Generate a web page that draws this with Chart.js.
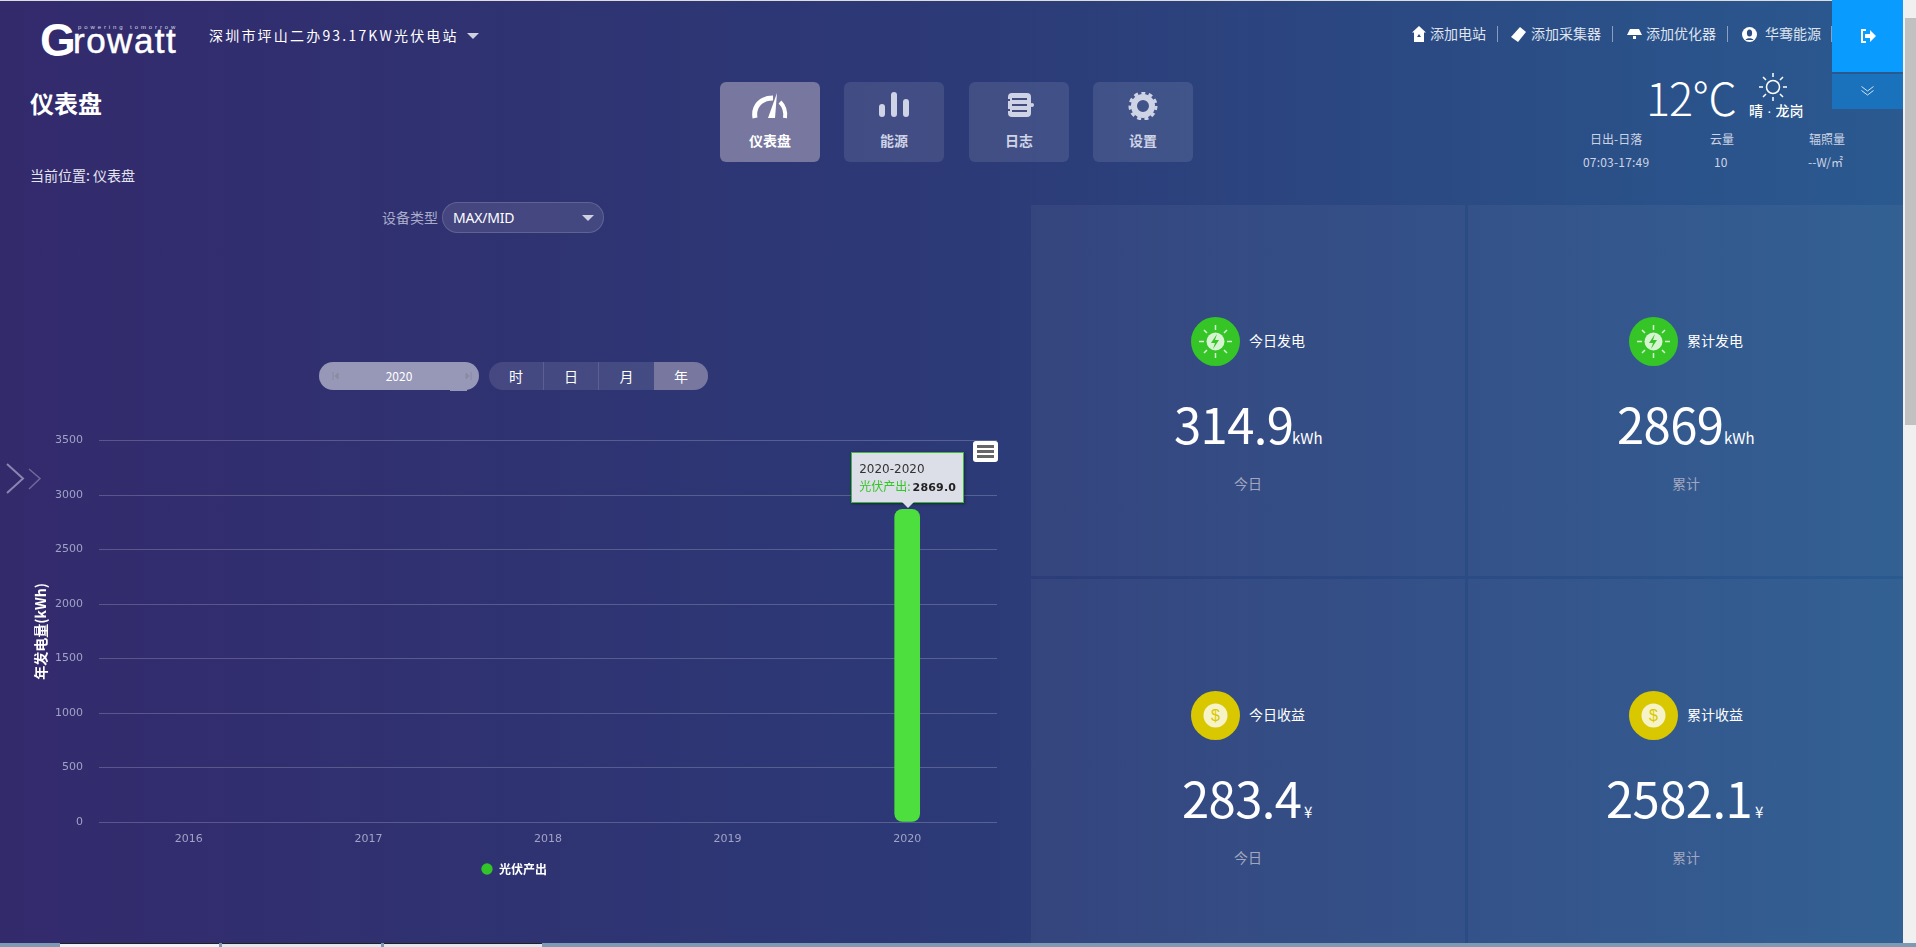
<!DOCTYPE html>
<html lang="zh-CN">
<head>
<meta charset="utf-8">
<title>仪表盘</title>
<script src="https://cdn.jsdelivr.net/npm/chart.js@4"></script>
<style>
html, body { margin: 0; padding: 0; overflow: hidden; }
body { width: 1916px; height: 947px; position: relative; color: #fff;
    font-family: "Noto Sans CJK SC", "Noto Sans", sans-serif; font-size: 14px;
    background: linear-gradient(90deg, #332a6c 0%, #2c3a77 50%, #2a5a90 100%); }
.abs { position: absolute; white-space: nowrap; line-height: 1; }
.sep { position: absolute; top: 26px; width: 1px; height: 16px; background: rgba(255,255,255,.45); }
.nav { position: absolute; top: 82px; width: 100px; height: 80px; border-radius: 6px; background: rgba(255,255,255,.1);
    text-align: center; color: #cfd3e6; font-weight: 700; }
.nav.on { background: #77779f; color: #fff; }
.nav svg { position: absolute; left: 30px; top: 10px; width: 40px; height: 28px; }
.nav span { position: absolute; left: 0; right: 0; top: 50px; line-height: 16px; }
.panel { position: absolute; background: rgba(255,255,255,.045); }
.seg { position: absolute; top: 0; height: 28px; line-height: 28px; text-align: center; border-right: 1px solid rgba(255,255,255,.12); }
.big { font-size: 49px; font-weight: 400; letter-spacing: -.6px; }
.unit { font-size: 15px; }
.ico { position: absolute; width: 49px; height: 49px; border-radius: 50%; }
#tip { position: absolute; width: 111px; height: 49px; background: #dcdee8; border: 1px solid #3fb83a;
    box-shadow: 1px 1px 3px rgba(0,0,0,.4); color: #333; font: 12px "DejaVu Sans", sans-serif; line-height: 1; }
#tip:after { content: ""; position: absolute; left: 50px; top: 49px; border: 6px solid transparent; border-top-color: #dcdee8; border-bottom: 0; }
</style>
</head>
<body>
<div class="abs" style="left:0;top:0;width:1916px;height:1px;background:#ddd"></div>

<!-- header -->
<div class="abs" style="left:40px;top:13px;font:700 46px 'Liberation Sans'">G</div>
<div class="abs" style="left:73px;top:21px;font:400 35px 'Liberation Sans';letter-spacing:1.5px;-webkit-text-stroke:.5px #fff">rowatt</div>
<div class="abs" style="left:78px;top:24px;font:6px 'Liberation Sans';letter-spacing:2.9px;color:#d8d8e8">powering tomorrow</div>
<div class="abs" style="left:209px;top:28px;font-size:14px;letter-spacing:2.2px">深圳市坪山二办93.17KW光伏电站</div>
<div class="abs" style="left:467px;top:33px;border:6px solid transparent;border-top:6px solid #cfd0e0;border-bottom:0"></div>

<svg class="abs" style="left:1412px;top:26px" width="14" height="16" viewBox="0 0 14 16"><path d="M7 0L14 6.5H12V16H2V6.5H0z" fill="#fff"/><path d="M7 8l-2 3h4z" fill="#2b4a85"/></svg>
<div class="abs" style="left:1430px;top:26px;color:#dfe3ef">添加电站</div>
<div class="sep" style="left:1497px"></div>
<svg class="abs" style="left:1511px;top:27px" width="15" height="15" viewBox="0 0 15 15"><path d="M9 0l6 5-8 10-7-5z" fill="#fff"/></svg>
<div class="abs" style="left:1531px;top:26px;color:#dfe3ef">添加采集器</div>
<div class="sep" style="left:1612px"></div>
<svg class="abs" style="left:1627px;top:29px" width="15" height="10" viewBox="0 0 15 10"><path d="M3 0h9l3 6H0zM6 7h3v3H6z" fill="#fff"/></svg>
<div class="abs" style="left:1646px;top:26px;color:#dfe3ef">添加优化器</div>
<div class="sep" style="left:1727px"></div>
<svg class="abs" style="left:1742px;top:27px" width="15" height="15" viewBox="0 0 15 15"><circle cx="7.5" cy="7.5" r="7.5" fill="#fff"/><ellipse cx="7.5" cy="6" rx="2.6" ry="3.6" fill="#2b4e87"/><path d="M3.5 13c1-2.5 7-2.5 8 0z" fill="#2b4e87"/></svg>
<div class="abs" style="left:1765px;top:26px;color:#dfe3ef">华骞能源</div>
<div class="sep" style="left:1831px"></div>

<div class="abs" style="left:1832px;top:0;width:71px;height:72px;background:#0a9bff"></div>
<svg class="abs" style="left:1860px;top:29px" width="16" height="14" viewBox="0 0 16 14"><path d="M6 1H2v12h4" fill="none" stroke="#fff" stroke-width="2"/><path d="M5 5h5V1l6 6-6 6V9H5z" fill="#fff"/></svg>
<div class="abs" style="left:1832px;top:74px;width:71px;height:35px;background:#1a72bd"></div>
<svg class="abs" style="left:1861px;top:86px" width="13" height="10" viewBox="0 0 13 10"><path d="M.5.5l6 4.5 6-4.5M.5 4.5l6 4.5 6-4.5" fill="none" stroke="#cfe2f3"/></svg>

<!-- page title -->
<div class="abs" style="left:30px;top:91px;font-size:24px;font-weight:700">仪表盘</div>
<div class="abs" style="left:30px;top:168px;color:#e4e5f0">当前位置: 仪表盘</div>

<!-- nav buttons -->
<div class="nav on" style="left:720px"><svg viewBox="0 0 40 28"><path d="M5 26C3 14 11 6 23 6" fill="none" stroke="#fff" stroke-width="5"/><path d="M27 1l-2 25h-7z" fill="#fff"/><path d="M30 10c4 4 6 9 5 16" fill="none" stroke="#fff" stroke-width="4"/></svg><span>仪表盘</span></div>
<div class="nav" style="left:844px"><svg viewBox="0 0 40 28"><rect x="5" y="12" width="6" height="13" rx="3" fill="#cfd3e6"/><rect x="17" y="0" width="6" height="25" rx="3" fill="#cfd3e6"/><rect x="29" y="7" width="6" height="18" rx="3" fill="#cfd3e6"/></svg><span>能源</span></div>
<div class="nav" style="left:969px"><svg viewBox="0 0 40 28"><rect x="9" y="1" width="23" height="24" rx="4" fill="#cfd3e6"/><path d="M4 8h7M4 18h7M13 7h15M13 13h15M13 19h15" stroke="#454a80" stroke-width="2"/><circle cx="33" cy="13" r="2" fill="#cfd3e6"/></svg><span>日志</span></div>
<div class="nav" style="left:1093px"><svg viewBox="0 0 40 28"><circle cx="20" cy="14" r="9" fill="none" stroke="#cfd3e6" stroke-width="6"/><circle cx="20" cy="14" r="13" fill="none" stroke="#cfd3e6" stroke-width="3" stroke-dasharray="4 3.4"/></svg><span>设置</span></div>

<!-- weather -->
<div class="abs" style="left:1646px;top:74px;font-size:45px;font-weight:300;letter-spacing:-1px">12℃</div>
<svg class="abs" style="left:1759px;top:73px" width="28" height="28" viewBox="0 0 28 28"><circle cx="14" cy="14" r="6.5" fill="none" stroke="#fff" stroke-width="1.5"/><path d="M14 0v4M14 24v4M0 14h4M24 14h4M4 4l3 3M21 21l3 3M24 4l-3 3M7 21l-3 3" stroke="#fff" stroke-width="1.5"/></svg>
<div class="abs" style="left:1749px;top:103px;font-weight:500">晴<span style="font-family:'Liberation Sans'"> · </span>龙岗</div>
<div class="abs" style="left:1590px;top:133px;font-size:12px;color:#cdd3e4">日出-日落</div>
<div class="abs" style="left:1710px;top:133px;font-size:12px;color:#cdd3e4">云量</div>
<div class="abs" style="left:1809px;top:133px;font-size:12px;color:#cdd3e4">辐照量</div>
<div class="abs" style="left:1583px;top:156px;font-size:12px;letter-spacing:.2px;color:#cdd3e4">07:03-17:49</div>
<div class="abs" style="left:1714px;top:156px;font-size:12px;color:#cdd3e4">10</div>
<div class="abs" style="left:1808px;top:156px;font-size:12px;color:#cdd3e4">--W/㎡</div>

<!-- filters -->
<div class="abs" style="left:382px;top:210px;color:#a9abca">设备类型</div>
<div class="abs" style="left:442px;top:202px;width:160px;height:29px;border:1px solid rgba(255,255,255,.15);border-radius:16px;background:rgba(255,255,255,.1)"></div>
<div class="abs" style="left:453px;top:211px;font-family:'Noto Sans';letter-spacing:-.2px">MAX/MID</div>
<div class="abs" style="left:582px;top:215px;border:6px solid transparent;border-top:6px solid #cfd0e0;border-bottom:0"></div>

<div class="abs" style="left:319px;top:362px;width:160px;height:28px;border-radius:14px;background:#9797b8"></div>
<div class="abs" style="left:450px;top:380px;width:17px;height:11px;background:#9797b8"></div>
<div class="abs" style="left:319px;top:370px;width:160px;text-align:center;font-size:12px;line-height:12px">2020</div>
<svg class="abs" style="left:332px;top:371px" width="140" height="10" viewBox="0 0 140 10"><path d="M1 1v8M6 2v6L3 5zM139 1v8M134 2v6l3-3z" stroke="#8a8aa0" fill="#8a8aa0"/></svg>
<div class="abs" style="left:489px;top:362px;width:219px;height:28px;border-radius:14px;background:rgba(255,255,255,.11);overflow:hidden">
    <div class="seg" style="left:0;width:54px">时</div>
    <div class="seg" style="left:55px;width:54px">日</div>
    <div class="seg" style="left:110px;width:55px;border:0">月</div>
    <div class="seg" style="left:165px;width:54px;background:#77779f;border:0">年</div>
</div>

<svg class="abs" style="left:6px;top:463px" width="36" height="31" viewBox="0 0 36 31"><path d="M1 1l16 14.500L1 30" fill="none" stroke="#8a86b0" stroke-width="2"/><path d="M23 6l11 9.500L23 26" fill="none" stroke="#6f6a9c" stroke-width="1.500"/></svg>

<!-- stat panels -->
<div class="panel" style="left:1031px;top:205px;width:434px;height:371px"></div>
<div class="panel" style="left:1468px;top:205px;width:435px;height:371px"></div>
<div class="panel" style="left:1031px;top:579px;width:434px;height:364px"></div>
<div class="panel" style="left:1468px;top:579px;width:435px;height:364px"></div>

<div class="ico" style="left:1191px;top:317px;background:#35c527"></div>
<div class="abs" style="left:1249px;top:333px">今日发电</div>
<div class="abs big" style="left:1174px;top:398px">314.9</div>
<div class="abs unit" style="left:1292px;top:430px">kWh</div>
<div class="abs" style="left:1234px;top:476px;color:#a2a7bf">今日</div>

<div class="ico" style="left:1629px;top:317px;background:#35c527"></div>
<div class="abs" style="left:1687px;top:333px">累计发电</div>
<div class="abs big" style="left:1617px;top:398px">2869</div>
<div class="abs unit" style="left:1724px;top:430px">kWh</div>
<div class="abs" style="left:1672px;top:476px;color:#a2a7bf">累计</div>

<div class="ico" style="left:1191px;top:691px;background:#d9c800"></div>
<div class="abs" style="left:1249px;top:707px">今日收益</div>
<div class="abs big" style="left:1182px;top:772px">283.4</div>
<div class="abs unit" style="left:1304px;top:804px">¥</div>
<div class="abs" style="left:1234px;top:850px;color:#a2a7bf">今日</div>

<div class="ico" style="left:1629px;top:691px;background:#d9c800"></div>
<div class="abs" style="left:1687px;top:707px">累计收益</div>
<div class="abs big" style="left:1606px;top:772px">2582.1</div>
<div class="abs unit" style="left:1755px;top:804px">¥</div>
<div class="abs" style="left:1672px;top:850px;color:#a2a7bf">累计</div>

<!-- panel icons -->
<svg class="abs" style="left:1191px;top:317px" width="49" height="49" viewBox="0 0 49 49"><circle cx="24.500" cy="24.500" r="9" fill="#d6f3d2"/><path d="M26 17l-6 9h4l-2 6 6-9h-4z" fill="#35c527"/><path d="M24.500 8v5M24.500 36v5M8 24.500h5M36 24.500h5M13 13l3 3M33 33l3 3M36 13l-3 3M16 33l-3 3" stroke="#d6f3d2" stroke-width="1.500"/></svg>
<svg class="abs" style="left:1629px;top:317px" width="49" height="49" viewBox="0 0 49 49"><circle cx="24.500" cy="24.500" r="9" fill="#d6f3d2"/><path d="M26 17l-6 9h4l-2 6 6-9h-4z" fill="#35c527"/><path d="M24.500 8v5M24.500 36v5M8 24.500h5M36 24.500h5M13 13l3 3M33 33l3 3M36 13l-3 3M16 33l-3 3" stroke="#d6f3d2" stroke-width="1.500"/></svg>
<svg class="abs" style="left:1191px;top:691px" width="49" height="49" viewBox="0 0 49 49"><circle cx="24.500" cy="24.500" r="12" fill="#f6f3c8"/><text x="24.500" y="30" text-anchor="middle" font-size="16" font-family="Liberation Sans" fill="#d9c800">$</text></svg>
<svg class="abs" style="left:1629px;top:691px" width="49" height="49" viewBox="0 0 49 49"><circle cx="24.500" cy="24.500" r="12" fill="#f6f3c8"/><text x="24.500" y="30" text-anchor="middle" font-size="16" font-family="Liberation Sans" fill="#d9c800">$</text></svg>

<!-- scrollbar and taskbar strip -->
<div class="abs" style="left:1903px;top:0;width:13px;height:943px;background:#f0f0f0"></div>
<div class="abs" style="left:1905px;top:18px;width:11px;height:407px;background:#c1c1c1"></div>
<div class="abs" style="left:0;top:943px;width:1916px;height:4px;background:#7c9ab2"></div>
<div class="abs" style="left:60px;top:943px;width:159px;height:4px;background:#eef2f5;border-top:1px solid #222;box-sizing:border-box"></div>
<div class="abs" style="left:222px;top:943px;width:159px;height:4px;background:#dfe7ec;border-top:1px solid #222;box-sizing:border-box"></div>
<div class="abs" style="left:384px;top:943px;width:158px;height:4px;background:#dfe7ec;border-top:1px solid #222;box-sizing:border-box"></div>

<!-- chart -->
<canvas id="yearChart" width="966" height="467" style="position:absolute;left:31px;top:418px"></canvas>

<div class="abs" style="left:973px;top:441px;width:25px;height:21px;border-radius:3px;background:#fff">
    <div class="abs" style="left:4px;top:4px;width:17px;height:3px;background:#666"></div>
    <div class="abs" style="left:4px;top:9px;width:17px;height:3px;background:#666"></div>
    <div class="abs" style="left:4px;top:14px;width:17px;height:3px;background:#666"></div>
</div>

<script>
const years = ['2016', '2017', '2018', '2019', '2020'];
const pvOutput = [null, null, null, null, 2869];
const seriesName = '光伏产出';
const yAxisTitle = '年发电量(kWh)';
const yMax = 3500;
const yStep = 500;
const canvas = document.getElementById('yearChart');

// html tooltip, the stock one can not colour the name and the value differently
function drawTip(context) {
    const tooltip = context.tooltip;
    let tip = document.getElementById('tip');
    if (!tip) {
        tip = document.createElement('div');
        tip.id = 'tip';
        document.body.appendChild(tip);
    }
    if (!tooltip.dataPoints || !tooltip.dataPoints.length) {
        return;
    }
    const point = tooltip.dataPoints[0];
    tip.innerHTML = `<div class="abs" style="left:7px;top:10px">${tooltip.title[0]}</div>
        <div class="abs" style="left:7px;top:27px"><span style="color:#35c527;font-family:'Noto Sans CJK SC'">${point.dataset.label}:</span><span style="font-weight:700;font-size:11px;letter-spacing:.2px;margin-left:2px;color:#222">${point.raw.toFixed(1)}</span></div>`;
    tip.style.left = canvas.offsetLeft + tooltip.caretX - 56 + 'px';
    tip.style.top = canvas.offsetTop + tooltip.caretY - 57 + 'px';
}

const myChart = new Chart(canvas, {
    type: 'bar',
    data: {
        labels: years,
        datasets: [{
            label: seriesName,
            data: pvOutput,
            backgroundColor: '#33c429',
            hoverBackgroundColor: '#4cdf3d',
            barThickness: 25,
            borderRadius: 8,
            borderSkipped: false
        }]
    },
    options: {
        responsive: false,
        animation: false,
        events: [],
        layout: { padding: { top: 15 } },
        scales: {
            x: {
                grid: { display: false },
                border: { display: false },
                ticks: { color: '#a0a3c6', padding: 3, font: { family: 'DejaVu Sans', size: 11 } },
                afterFit(scale) { scale.height = 31; }
            },
            y: {
                min: 0,
                max: yMax,
                grid: { color: 'rgba(255,255,255,0.2)', drawTicks: false },
                border: { display: false },
                ticks: {
                    stepSize: yStep,
                    color: '#a0a3c6',
                    padding: 16,
                    font: { family: 'DejaVu Sans', size: 11 },
                    callback: value => String(value)
                },
                title: {
                    display: true,
                    text: yAxisTitle,
                    color: '#fff',
                    padding: { top: 1, bottom: 0 },
                    font: { family: 'Noto Sans CJK SC', size: 14, weight: 'bold' }
                },
                afterFit(scale) { scale.width = 68; }
            }
        },
        plugins: {
            legend: {
                position: 'bottom',
                labels: {
                    usePointStyle: true,
                    boxHeight: 8,
                    color: '#fff',
                    font: { family: 'Noto Sans CJK SC', size: 12, weight: 'bold' }
                }
            },
            tooltip: {
                enabled: false,
                external: drawTip,
                callbacks: {
                    title: items => items[0].label + '-' + items[0].label
                }
            }
        }
    }
});

// the reference has the 2020 bar hovered
const activeBar = [{ datasetIndex: 0, index: years.length - 1 }];
myChart.setActiveElements(activeBar);
myChart.tooltip.setActiveElements(activeBar, { x: 0, y: 0 });
myChart.update();
</script>
</body>
</html>
